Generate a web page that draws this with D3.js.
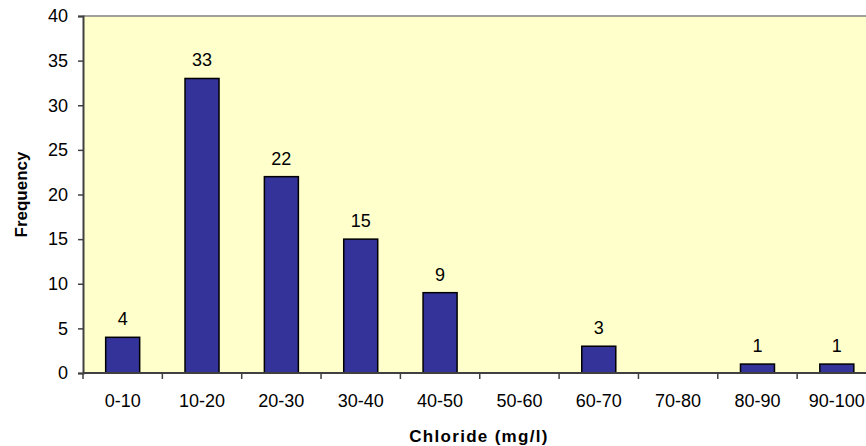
<!DOCTYPE html>
<html>
<head>
<meta charset="utf-8">
<script src="https://cdn.jsdelivr.net/npm/d3@7"></script>
<style>
  html, body { margin: 0; padding: 0; background: #ffffff; overflow: hidden; }
  svg { display: block; font-family: "Liberation Sans", Arial, sans-serif; }
</style>
</head>
<body>
<svg id="chart" width="866" height="446"></svg>
<script>
// Chloride concentration classes and their counts
const categories = ["0-10", "10-20", "20-30", "30-40", "40-50", "50-60", "60-70", "70-80", "80-90", "90-100"];
const frequencies = [4, 33, 22, 15, 9, 0, 3, 0, 1, 1];
const yTicks = [0, 5, 10, 15, 20, 25, 30, 35, 40];

const svg = d3.select("#chart");
// the plot area runs slightly past the right edge of the canvas
const margin = { top: 16, right: -10.5, bottom: 73, left: 83 };
const W = 866, H = 446;
const plotW = W - margin.left - margin.right;
const plotH = H - margin.top - margin.bottom;
const FONT = "Liberation Sans, Arial, sans-serif";

const x = d3.scaleBand().domain(categories).range([0, plotW]).paddingInner(0.5715).paddingOuter(0.2857);
const xTicks = d3.scaleBand().domain(categories).range([0, plotW]);
const y = d3.scaleLinear().domain([0, 40]).range([plotH, 0]);

const g = svg.append("g").attr("transform", `translate(${margin.left},${margin.top})`);

// plot area background
g.append("rect")
  .attr("x", 0).attr("y", 0)
  .attr("width", plotW).attr("height", plotH)
  .attr("fill", "#FFFFCC");

// top border of plot area
g.append("line")
  .attr("x1", 0).attr("x2", plotW)
  .attr("y1", y(40)).attr("y2", y(40))
  .attr("stroke", "#808080").attr("stroke-width", 1.5);

const barData = categories.map((c, i) => ({ c, v: frequencies[i] })).filter(d => d.v > 0);

// bars
g.selectAll("rect.bar")
  .data(barData)
  .join("rect")
  .attr("class", "bar")
  .attr("x", d => x(d.c))
  .attr("y", d => y(d.v))
  .attr("width", x.bandwidth())
  .attr("height", d => y(0) - y(d.v))
  .attr("fill", "#333399")
  .attr("stroke", "#000000")
  .attr("stroke-width", 1.5);

// value labels
g.selectAll("text.val")
  .data(barData)
  .join("text")
  .attr("class", "val")
  .attr("x", d => x(d.c) + x.bandwidth() / 2)
  .attr("y", d => y(d.v) - 12)
  .attr("text-anchor", "middle")
  .attr("font-size", 18)
  .attr("font-family", FONT)
  .attr("fill", "#000")
  .text(d => d.v);

// y axis
const yAxis = g.append("g")
  .call(d3.axisLeft(y).tickValues(yTicks).tickSize(5).tickPadding(10));
yAxis.select(".domain").attr("stroke", "#404040").attr("stroke-width", 2);
yAxis.selectAll(".tick line").attr("stroke", "#404040").attr("stroke-width", 1.5);
yAxis.selectAll(".tick text").attr("font-size", 18).attr("fill", "#000").attr("font-family", FONT);

// x axis with ticks on class boundaries
const xAxis = g.append("g").attr("transform", `translate(0,${plotH})`);
xAxis.append("line")
  .attr("x1", 0).attr("x2", plotW).attr("y1", 0).attr("y2", 0)
  .attr("stroke", "#404040").attr("stroke-width", 2);
xAxis.selectAll("line.tick")
  .data(categories.concat(["end"]))
  .join("line")
  .attr("class", "tick")
  .attr("x1", (d, i) => i * xTicks.bandwidth())
  .attr("x2", (d, i) => i * xTicks.bandwidth())
  .attr("y1", 0).attr("y2", 6)
  .attr("stroke", "#404040").attr("stroke-width", 1.5);
xAxis.selectAll("text.lbl")
  .data(categories)
  .join("text")
  .attr("class", "lbl")
  .attr("x", d => xTicks(d) + xTicks.bandwidth() / 2)
  .attr("y", 34)
  .attr("text-anchor", "middle")
  .attr("font-size", 18)
  .attr("font-family", FONT)
  .attr("fill", "#000")
  .text(d => d);

// axis titles
svg.append("text")
  .attr("x", 479)
  .attr("y", 442)
  .attr("text-anchor", "middle")
  .attr("font-size", 17)
  .attr("font-weight", "bold")
  .attr("letter-spacing", 1.3)
  .attr("font-family", FONT)
  .text("Chloride (mg/l)");

svg.append("text")
  .attr("transform", `translate(26.5,${margin.top + plotH / 2}) rotate(-90)`)
  .attr("text-anchor", "middle")
  .attr("font-size", 17)
  .attr("font-weight", "bold")
  .attr("font-family", FONT)
  .text("Frequency");
</script>
</body>
</html>
